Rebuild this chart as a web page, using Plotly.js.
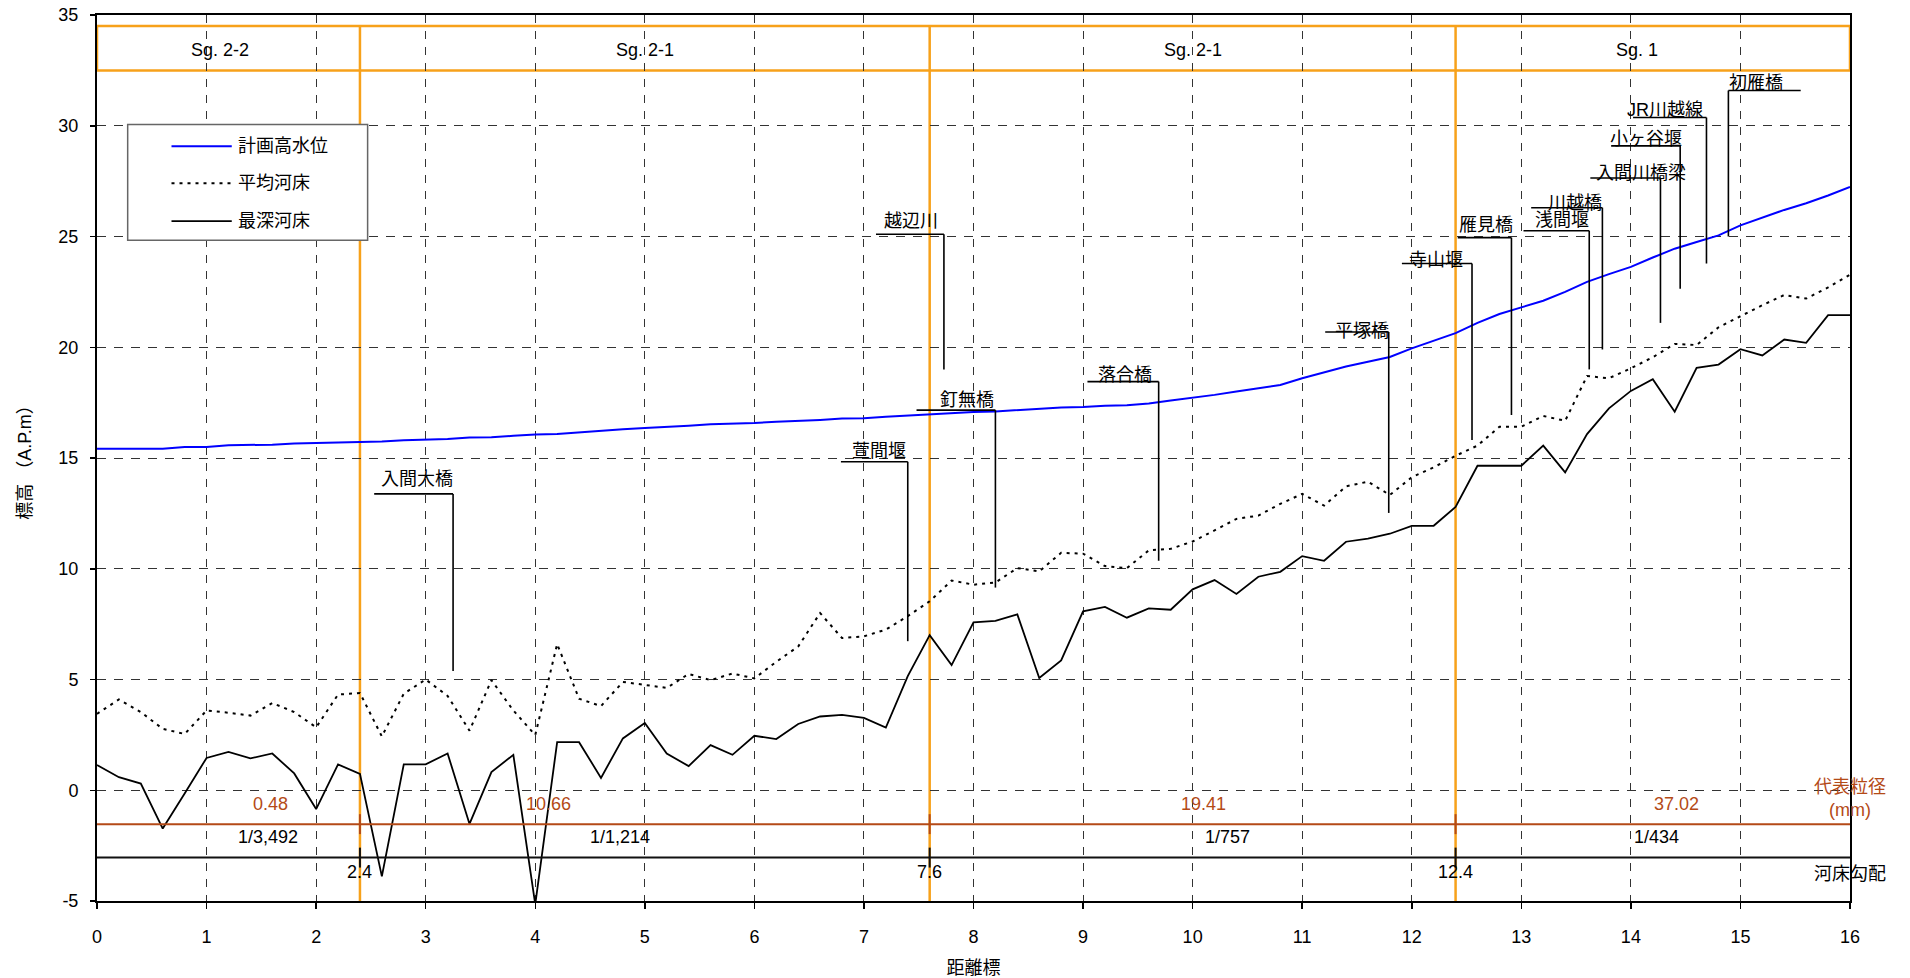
<!DOCTYPE html>
<html>
<head>
<meta charset="utf-8">
<script src="https://cdn.plot.ly/plotly-3.0.1.min.js"></script>
<style>html,body{margin:0;padding:0;background:#fff;}#chart{width:1910px;height:978px;}</style>
</head>
<body>
<div id="chart"></div>
<script>
// ---------- data ----------
const distance = [0,0.2,0.4,0.6,0.8,1,1.2,1.4,1.6,1.8,2,2.2,2.4,2.6,2.8,3,3.2,3.4,3.6,3.8,4,4.2,4.4,4.6,4.8,5,5.2,5.4,5.6,5.8,6,6.2,6.4,6.6,6.8,7,7.2,7.4,7.6,7.8,8,8.2,8.4,8.6,8.8,9,9.2,9.4,9.6,9.8,10,10.2,10.4,10.6,10.8,11,11.2,11.4,11.6,11.8,12,12.2,12.4,12.6,12.8,13,13.2,13.4,13.6,13.8,14,14.2,14.4,14.6,14.8,15,15.2,15.4,15.6,15.8,16];

const planHighWater = [15.42,15.42,15.42,15.42,15.5,15.5,15.58,15.58,15.6,15.66,15.68,15.72,15.74,15.74,15.8,15.82,15.86,15.92,15.94,16.0,16.06,16.08,16.16,16.22,16.3,16.36,16.4,16.46,16.52,16.54,16.58,16.64,16.67,16.72,16.78,16.8,16.86,16.92,16.96,17.02,17.08,17.1,17.16,17.22,17.28,17.3,17.36,17.38,17.46,17.6,17.72,17.85,18.0,18.15,18.3,18.6,18.86,19.13,19.35,19.56,19.95,20.3,20.64,21.1,21.5,21.8,22.1,22.5,22.95,23.3,23.63,24.05,24.45,24.75,25.05,25.5,25.85,26.2,26.5,26.85,27.24];

const meanBed = [3.45,4.10,3.53,2.77,2.54,3.60,3.50,3.37,3.94,3.53,2.84,4.32,4.39,2.43,4.36,5.0,4.26,2.69,4.97,3.6,2.49,6.6,4.13,3.8,4.89,4.77,4.62,5.25,4.97,5.27,5.05,5.8,6.49,8.0,6.87,6.95,7.25,7.86,8.53,9.47,9.28,9.38,10.03,9.88,10.72,10.68,10.12,10.03,10.83,10.9,11.23,11.73,12.25,12.4,12.93,13.38,12.85,13.72,13.93,13.33,14.13,14.58,15.1,15.56,16.41,16.41,16.9,16.68,18.7,18.6,19.05,19.55,20.15,20.1,20.9,21.4,21.9,22.36,22.2,22.7,23.28];

const deepestBed = [1.14,0.59,0.30,-1.73,-0.15,1.46,1.73,1.44,1.66,0.76,-0.85,1.17,0.74,-3.89,1.17,1.17,1.66,-1.52,0.82,1.60,-5.15,2.17,2.17,0.56,2.34,3.04,1.66,1.09,2.04,1.60,2.46,2.31,2.99,3.33,3.40,3.27,2.83,5.15,7.0,5.65,7.58,7.65,7.94,5.07,5.86,8.08,8.28,7.79,8.21,8.15,9.07,9.49,8.86,9.64,9.86,10.57,10.36,11.22,11.36,11.58,11.94,11.94,12.79,14.65,14.65,14.65,15.56,14.35,16.08,17.24,18.03,18.56,17.09,19.07,19.22,19.91,19.63,20.35,20.2,21.45,21.45];

const seriesNames = ['計画高水位','平均河床','最深河床'];

const xTickVals = [0,1,2,3,4,5,6,7,8,9,10,11,12,13,14,15,16];
const xTickText = ['0','1','2','3','4','5','6','7','8','9','10','11','12','13','14','15','16'];
const yTickVals = [-5,0,5,10,15,20,25,30,35];
const yTickText = ['-5','0','5','10','15','20','25','30','35'];

// segments
const segmentBounds = [2.4, 7.6, 12.4];
const segmentBoundText = ['2.4','7.6','12.4'];
const segmentNames = ['Sg. 2-2','Sg. 2-1','Sg. 2-1','Sg. 1'];
const segmentNameX = [1.12, 5.0, 10.0, 14.06];
const grainSizes = ['0.48','10.66','19.41','37.02'];
const grainSizeX = [1.58, 4.12, 10.1, 14.42];
const bedSlopes = ['1/3,492','1/1,214','1/757','1/434'];
const bedSlopeX = [1.56, 4.77, 10.32, 14.23];

// structure labels
const structNames = ['入間大橋','萱間堰','越辺川','釘無橋','落合橋','平塚橋','寺山堰','雁見橋','浅間堰','川越橋','入間川橋梁','小ヶ谷堰','JR川越線','初雁橋'];
const structLineX0 = [2.53,6.79,7.11,7.48,9.04,11.21,11.91,12.42,13.02,13.09,13.63,13.82,14.02,14.89];
const structLineX1 = [3.25,7.40,7.73,8.20,9.69,11.79,12.55,12.91,13.62,13.74,14.27,14.45,14.69,15.55];
const structStemX  = [3.25,7.40,7.73,8.20,9.69,11.79,12.55,12.91,13.62,13.74,14.27,14.45,14.69,14.89];
const structLineY  = [13.38,14.83,25.1,17.16,18.45,20.69,23.78,24.95,25.26,26.3,27.64,29.09,30.37,31.59];
const structStemEnd= [5.38,6.73,19.0,9.15,10.36,12.52,15.81,16.94,19.0,19.9,21.1,22.64,23.78,25.0];
const structTextX  = [2.92,7.14,7.43,7.94,9.38,11.55,12.22,12.68,13.37,13.49,14.09,14.14,14.31,15.14];
const structTextY  = [14.04,15.31,25.69,17.62,18.75,20.72,23.92,25.51,25.74,26.51,27.88,29.41,30.70,31.92];

// ---------- styling ----------
const FONT = "'Liberation Sans', Arial, 'Noto Sans CJK JP', sans-serif";
const ORANGE = '#F7A11A';
const BROWN = '#B44A17';
const BAND_TOP = 34.5, BAND_BOTTOM = 32.5;
const GRAIN_LINE_Y = -1.53, SLOPE_LINE_Y = -3.04;

const traces = [
  {x: distance, y: planHighWater, name: seriesNames[0], type: 'scatter', mode: 'lines',
   line: {color: '#0000FF', width: 2}},
  {x: distance, y: meanBed, name: seriesNames[1], type: 'scatter', mode: 'lines',
   line: {color: '#000', width: 2, dash: '3px,5px'}},
  {x: distance, y: deepestBed, name: seriesNames[2], type: 'scatter', mode: 'lines',
   line: {color: '#000', width: 1.8}}
];

const shapes = [];
const annotations = [];

// orange segment band
shapes.push({type:'rect', xref:'x', yref:'y', x0:0, x1:16, y0:BAND_BOTTOM, y1:BAND_TOP,
  line:{color:ORANGE, width:2.5}, fillcolor:'rgba(0,0,0,0)', layer:'below'});
segmentBounds.forEach(b => {
  shapes.push({type:'line', xref:'x', yref:'y', x0:b, x1:b, y0:-5, y1:BAND_TOP,
    line:{color:ORANGE, width:2.5}, layer:'below'});
});
segmentNames.forEach((t,i) => {
  annotations.push({x:segmentNameX[i], y:(BAND_TOP+BAND_BOTTOM)/2 - 0.1, text:t, showarrow:false,
    xanchor:'center', yanchor:'middle', font:{size:18, color:'#000'}});
});

// bottom band lines
shapes.push({type:'line', xref:'x', yref:'y', x0:0, x1:16, y0:GRAIN_LINE_Y, y1:GRAIN_LINE_Y,
  line:{color:BROWN, width:2}});
shapes.push({type:'line', xref:'x', yref:'y', x0:0, x1:16, y0:SLOPE_LINE_Y, y1:SLOPE_LINE_Y,
  line:{color:'#111', width:2}});
segmentBounds.forEach((b,i) => {
  shapes.push({type:'line', xref:'x', yref:'y', x0:b, x1:b, y0:GRAIN_LINE_Y+0.45, y1:GRAIN_LINE_Y-0.45,
    line:{color:BROWN, width:2}});
  shapes.push({type:'line', xref:'x', yref:'y', x0:b, x1:b, y0:SLOPE_LINE_Y+0.45, y1:SLOPE_LINE_Y-0.45,
    line:{color:'#111', width:2}});
  annotations.push({x:b, y:SLOPE_LINE_Y-0.65, text:segmentBoundText[i], showarrow:false,
    xanchor:'center', yanchor:'middle', font:{size:18, color:'#000'}});
});
grainSizes.forEach((t,i) => {
  annotations.push({x:grainSizeX[i], y:GRAIN_LINE_Y+0.93, text:t, showarrow:false,
    xanchor:'center', yanchor:'middle', font:{size:18, color:BROWN}});
});
bedSlopes.forEach((t,i) => {
  annotations.push({x:bedSlopeX[i], y:GRAIN_LINE_Y-0.6, text:t, showarrow:false,
    xanchor:'center', yanchor:'middle', font:{size:18, color:'#000'}});
});
annotations.push({x:16, y:-0.35, text:'代表粒径<br>(mm)', showarrow:false, xanchor:'center', yanchor:'middle',
  font:{size:18, color:BROWN}});
annotations.push({x:16, y:SLOPE_LINE_Y-0.73, text:'河床勾配', showarrow:false, xanchor:'center', yanchor:'middle',
  font:{size:18, color:'#000'}});

// structure labels with leader lines
structNames.forEach((t,i) => {
  shapes.push({type:'line', xref:'x', yref:'y', x0:structLineX0[i], x1:structLineX1[i], y0:structLineY[i], y1:structLineY[i],
    line:{color:'#000', width:1.6}});
  shapes.push({type:'line', xref:'x', yref:'y', x0:structStemX[i], x1:structStemX[i], y0:structLineY[i], y1:structStemEnd[i],
    line:{color:'#000', width:1.6}});
  annotations.push({x:structTextX[i], y:structTextY[i], text:t, showarrow:false, xanchor:'center', yanchor:'middle',
    font:{size:18, color:'#000'}});
});

// legend box (drawn as shapes + text)
const LEG = {x0:0.28, x1:2.47, y0:24.83, y1:30.06, lx0:0.68, lx1:1.23, tx:1.27, rows:[29.07, 27.4, 25.69]};
shapes.push({type:'rect', xref:'x', yref:'y', x0:LEG.x0, x1:LEG.x1, y0:LEG.y0, y1:LEG.y1,
  line:{color:'#666', width:1.5}, fillcolor:'#fff', layer:'above'});
traces.forEach((tr,i) => {
  shapes.push({type:'line', xref:'x', yref:'y', x0:LEG.lx0, x1:LEG.lx1, y0:LEG.rows[i], y1:LEG.rows[i],
    line:{color:tr.line.color, width:tr.line.width, dash: tr.line.dash || 'solid'}});
  annotations.push({x:LEG.tx, y:LEG.rows[i], text:tr.name, showarrow:false, xanchor:'left', yanchor:'middle',
    font:{size:18, color:'#000'}});
});

const layout = {
  width: 1910, height: 978,
  margin: {l: 97, r: 60, t: 15, b: 77},
  paper_bgcolor: '#fff', plot_bgcolor: '#fff',
  font: {family: FONT, size: 18, color: '#000'},
  showlegend: false,
  xaxis: {
    range: [0, 16], tickvals: xTickVals, ticktext: xTickText,
    showgrid: true, gridcolor: '#333', gridwidth: 1, griddash: '8px,8px',
    showline: true, linecolor: '#000', linewidth: 2, mirror: true,
    ticks: 'outside', ticklen: 6, tickwidth: 1.5, tickcolor: '#000', ticklabelstandoff: 12,
    zeroline: false, automargin: false,
    tickfont: {size: 18},
    title: {text: '距離標', standoff: 16, font: {size: 18}}
  },
  yaxis: {
    range: [-5, 35], tickvals: yTickVals, ticktext: yTickText,
    showgrid: true, gridcolor: '#333', gridwidth: 1, griddash: '9px,8px',
    showline: true, linecolor: '#000', linewidth: 2, mirror: true,
    ticks: 'outside', ticklen: 5, tickwidth: 1.5, tickcolor: '#000', ticklabelstandoff: 8,
    zeroline: false, automargin: false,
    tickfont: {size: 18},
    title: {text: '標高 （A.P.m）', standoff: 22, font: {size: 18}}
  },
  shapes: shapes,
  annotations: annotations
};

Plotly.newPlot('chart', traces, layout, {displayModeBar: false, staticPlot: true});
</script>
</body>
</html>
